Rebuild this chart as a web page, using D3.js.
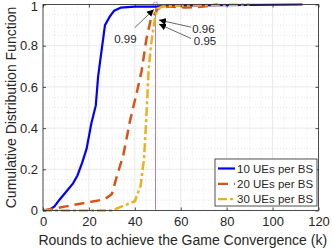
<!DOCTYPE html>
<html>
<head>
<meta charset="utf-8">
<script src="https://cdn.jsdelivr.net/npm/d3@7"></script>
<style>
  body { margin: 0; background: #fff; }
  text { font-family: "Liberation Sans", Arial, sans-serif; fill: #262626; }
</style>
</head>
<body>
<svg id="chart" width="332" height="249"></svg>
<script>
// values
var rounds10 = [0, 3, 5, 7, 10, 13, 15, 17, 19, 21, 23, 24, 27, 29, 31, 34, 40, 49, 55, 113];
var cdf10 = [0, 0.005, 0.02, 0.05, 0.09, 0.13, 0.17, 0.23, 0.3, 0.42, 0.51, 0.65, 0.9, 0.94, 0.97, 0.985, 0.99, 0.99, 0.995, 1];

var rounds20 = [0, 10, 20, 27, 30, 32, 35, 38, 41, 43, 45, 47, 49, 50, 55, 62, 70, 76];
var cdf20 = [0, 0.02, 0.04, 0.055, 0.08, 0.16, 0.27, 0.44, 0.58, 0.68, 0.83, 0.93, 0.96, 0.98, 0.99, 0.985, 0.99, 1];

var rounds30 = [0, 30, 40, 42.5, 44, 45, 46, 47, 48, 49, 50, 52, 60, 90];
var cdf30 = [0, 0, 0.045, 0.12, 0.25, 0.45, 0.68, 0.8, 0.88, 0.95, 0.98, 0.99, 0.995, 1];

var seriesNames = ["10 UEs per BS", "20 UEs per BS", "30 UEs per BS"];
var seriesColors = ["#0000ff", "#d95319", "#edb120"];
var seriesDash = [null, "10,6", "9,3,3,3"];

var xTicks = [0, 20, 40, 60, 80, 100, 120];
var yTicks = [0, 0.2, 0.4, 0.6, 0.8, 1];
var markRound = 49;

// annotations: label, text pos, arrow tail, arrow tip (data units)
var notes = [
  { label: "0.99", tx: 31, ty: 0.835, x1: 40, y1: 0.888, x2: 48.3, y2: 0.976 },
  { label: "0.96", tx: 65, ty: 0.883, x1: 64.5, y1: 0.89, x2: 50.5, y2: 0.925 },
  { label: "0.95", tx: 65.7, ty: 0.822, x1: 64.5, y1: 0.835, x2: 50.5, y2: 0.905 }
];

var padL = 43, padR = 318.5, padT = 4.5, padB = 210.5;
var svg = d3.select("#chart");

var x = d3.scaleLinear().domain([0, 120]).range([padL, padR]);
var y = d3.scaleLinear().domain([0, 1]).range([padB, padT]);

svg.append("defs").append("marker")
  .attr("id", "head")
  .attr("viewBox", "0 0 10 10")
  .attr("refX", 10).attr("refY", 5)
  .attr("markerWidth", 7).attr("markerHeight", 7)
  .attr("markerUnits", "userSpaceOnUse")
  .attr("orient", "auto")
  .append("path").attr("d", "M0,0 L10,5 L0,10 z").attr("fill", "#000");

// minor grid
var minorX = d3.range(0, 121, 5).filter(function(v){ return v % 20 != 0; });
var minorY = d3.range(0, 1.001, 0.05).filter(function(v){ return Math.abs(v*5 - Math.round(v*5)) > 0.01; });
minorX.forEach(function(v){
  svg.append("line")
    .attr("x1", x(v)).attr("x2", x(v)).attr("y1", padT).attr("y2", padB)
    .attr("stroke", "#d8d8d8").attr("stroke-width", 0.6).attr("stroke-dasharray", "1,2");
});
minorY.forEach(function(v){
  svg.append("line")
    .attr("x1", padL).attr("x2", padR).attr("y1", y(v)).attr("y2", y(v))
    .attr("stroke", "#d8d8d8").attr("stroke-width", 0.6).attr("stroke-dasharray", "1,2");
});

// major grid
xTicks.forEach(function(v){
  svg.append("line")
    .attr("x1", x(v)).attr("x2", x(v)).attr("y1", padT).attr("y2", padB)
    .attr("stroke", "#e3e3e3").attr("stroke-width", 0.8);
});
yTicks.forEach(function(v){
  svg.append("line")
    .attr("x1", padL).attr("x2", padR).attr("y1", y(v)).attr("y2", y(v))
    .attr("stroke", "#e3e3e3").attr("stroke-width", 0.8);
});

// marker line at the convergence round
svg.append("line")
  .attr("x1", x(markRound)).attr("x2", x(markRound))
  .attr("y1", y(0)).attr("y2", y(1))
  .attr("stroke", "#a585b8").attr("stroke-width", 1);
svg.append("circle")
  .attr("cx", x(markRound)).attr("cy", y(1)).attr("r", 2.5)
  .attr("fill", "none").attr("stroke", "#a585b8").attr("stroke-width", 0.8);

// curves
var line = d3.line().x(function(d){ return x(d[0]); }).y(function(d){ return y(d[1]); });
var allX = [rounds10, rounds20, rounds30];
var allY = [cdf10, cdf20, cdf30];
for (var s = 0; s < 3; s++) {
  var pts = d3.zip(allX[s], allY[s]);
  svg.append("path")
    .attr("d", line(pts))
    .attr("fill", "none")
    .attr("stroke", seriesColors[s])
    .attr("stroke-width", s == 0 ? 2.2 : 2.5)
    .attr("stroke-dasharray", seriesDash[s]);
}

// axes box and ticks
svg.append("rect")
  .attr("x", padL).attr("y", padT).attr("width", padR - padL).attr("height", padB - padT)
  .attr("fill", "none").attr("stroke", "#262626").attr("stroke-width", 0.8);

var xAxis = d3.axisBottom(x).tickValues(xTicks).tickSize(-3).tickPadding(6);
var gx = svg.append("g").attr("transform", "translate(0," + padB + ")").call(xAxis);
var yAxis = d3.axisLeft(y).tickValues(yTicks).tickSize(-3).tickPadding(5).tickFormat(d3.format("~g"));
var gy = svg.append("g").attr("transform", "translate(" + padL + ",0)").call(yAxis);
var gxTop = svg.append("g").attr("transform", "translate(0," + padT + ")")
  .call(d3.axisTop(x).tickValues(xTicks).tickSize(-3).tickFormat(""));
var gyRight = svg.append("g").attr("transform", "translate(" + padR + ",0)")
  .call(d3.axisRight(y).tickValues(yTicks).tickSize(-3).tickFormat(""));

[gx, gy, gxTop, gyRight].forEach(function(g){
  g.select(".domain").remove();
  g.selectAll("line").attr("stroke", "#262626").attr("stroke-width", 0.8);
  g.selectAll("text").attr("font-size", "13px").attr("font-family", "Liberation Sans, Arial, sans-serif").attr("fill", "#262626");
});
gy.selectAll("text").filter(function(d){ return d == 1; }).attr("dy", "0.45em");

// axis labels
svg.append("text")
  .attr("x", (padL + padR) / 2 + 2).attr("y", 245)
  .attr("text-anchor", "middle").attr("font-size", "14px")
  .text("Rounds to achieve the Game Convergence (k)");
svg.append("text")
  .attr("transform", "translate(16," + ((padT + padB) / 2) + ") rotate(-90)")
  .attr("text-anchor", "middle").attr("font-size", "14px")
  .text("Cumulative Distribution Function");

// annotations
notes.forEach(function(n){
  svg.append("line")
    .attr("x1", x(n.x1)).attr("y1", y(n.y1))
    .attr("x2", x(n.x2)).attr("y2", y(n.y2))
    .attr("stroke", "#000").attr("stroke-width", 0.6)
    .attr("marker-end", "url(#head)");
  svg.append("text")
    .attr("x", x(n.tx)).attr("y", y(n.ty))
    .attr("dy", "0.35em").attr("font-size", "11.5px").attr("fill", "#000")
    .text(n.label);
});

// legend
var lgX = 215, lgY = 159, lgW = 102, lgH = 47;
var lg = svg.append("g");
lg.append("rect")
  .attr("x", lgX).attr("y", lgY).attr("width", lgW).attr("height", lgH)
  .attr("fill", "#fff").attr("stroke", "#262626").attr("stroke-width", 0.8);
seriesNames.forEach(function(name, i){
  var ly = lgY + 9.5 + i * 15.3;
  lg.append("line")
    .attr("x1", lgX + 3).attr("x2", lgX + 20).attr("y1", ly).attr("y2", ly)
    .attr("stroke", seriesColors[i]).attr("stroke-width", 2.2)
    .attr("stroke-dasharray", seriesDash[i]);
  lg.append("text")
    .attr("x", lgX + 22).attr("y", ly).attr("dy", "0.35em")
    .attr("font-size", "11.5px")
    .text(name);
});
</script>
</body>
</html>
